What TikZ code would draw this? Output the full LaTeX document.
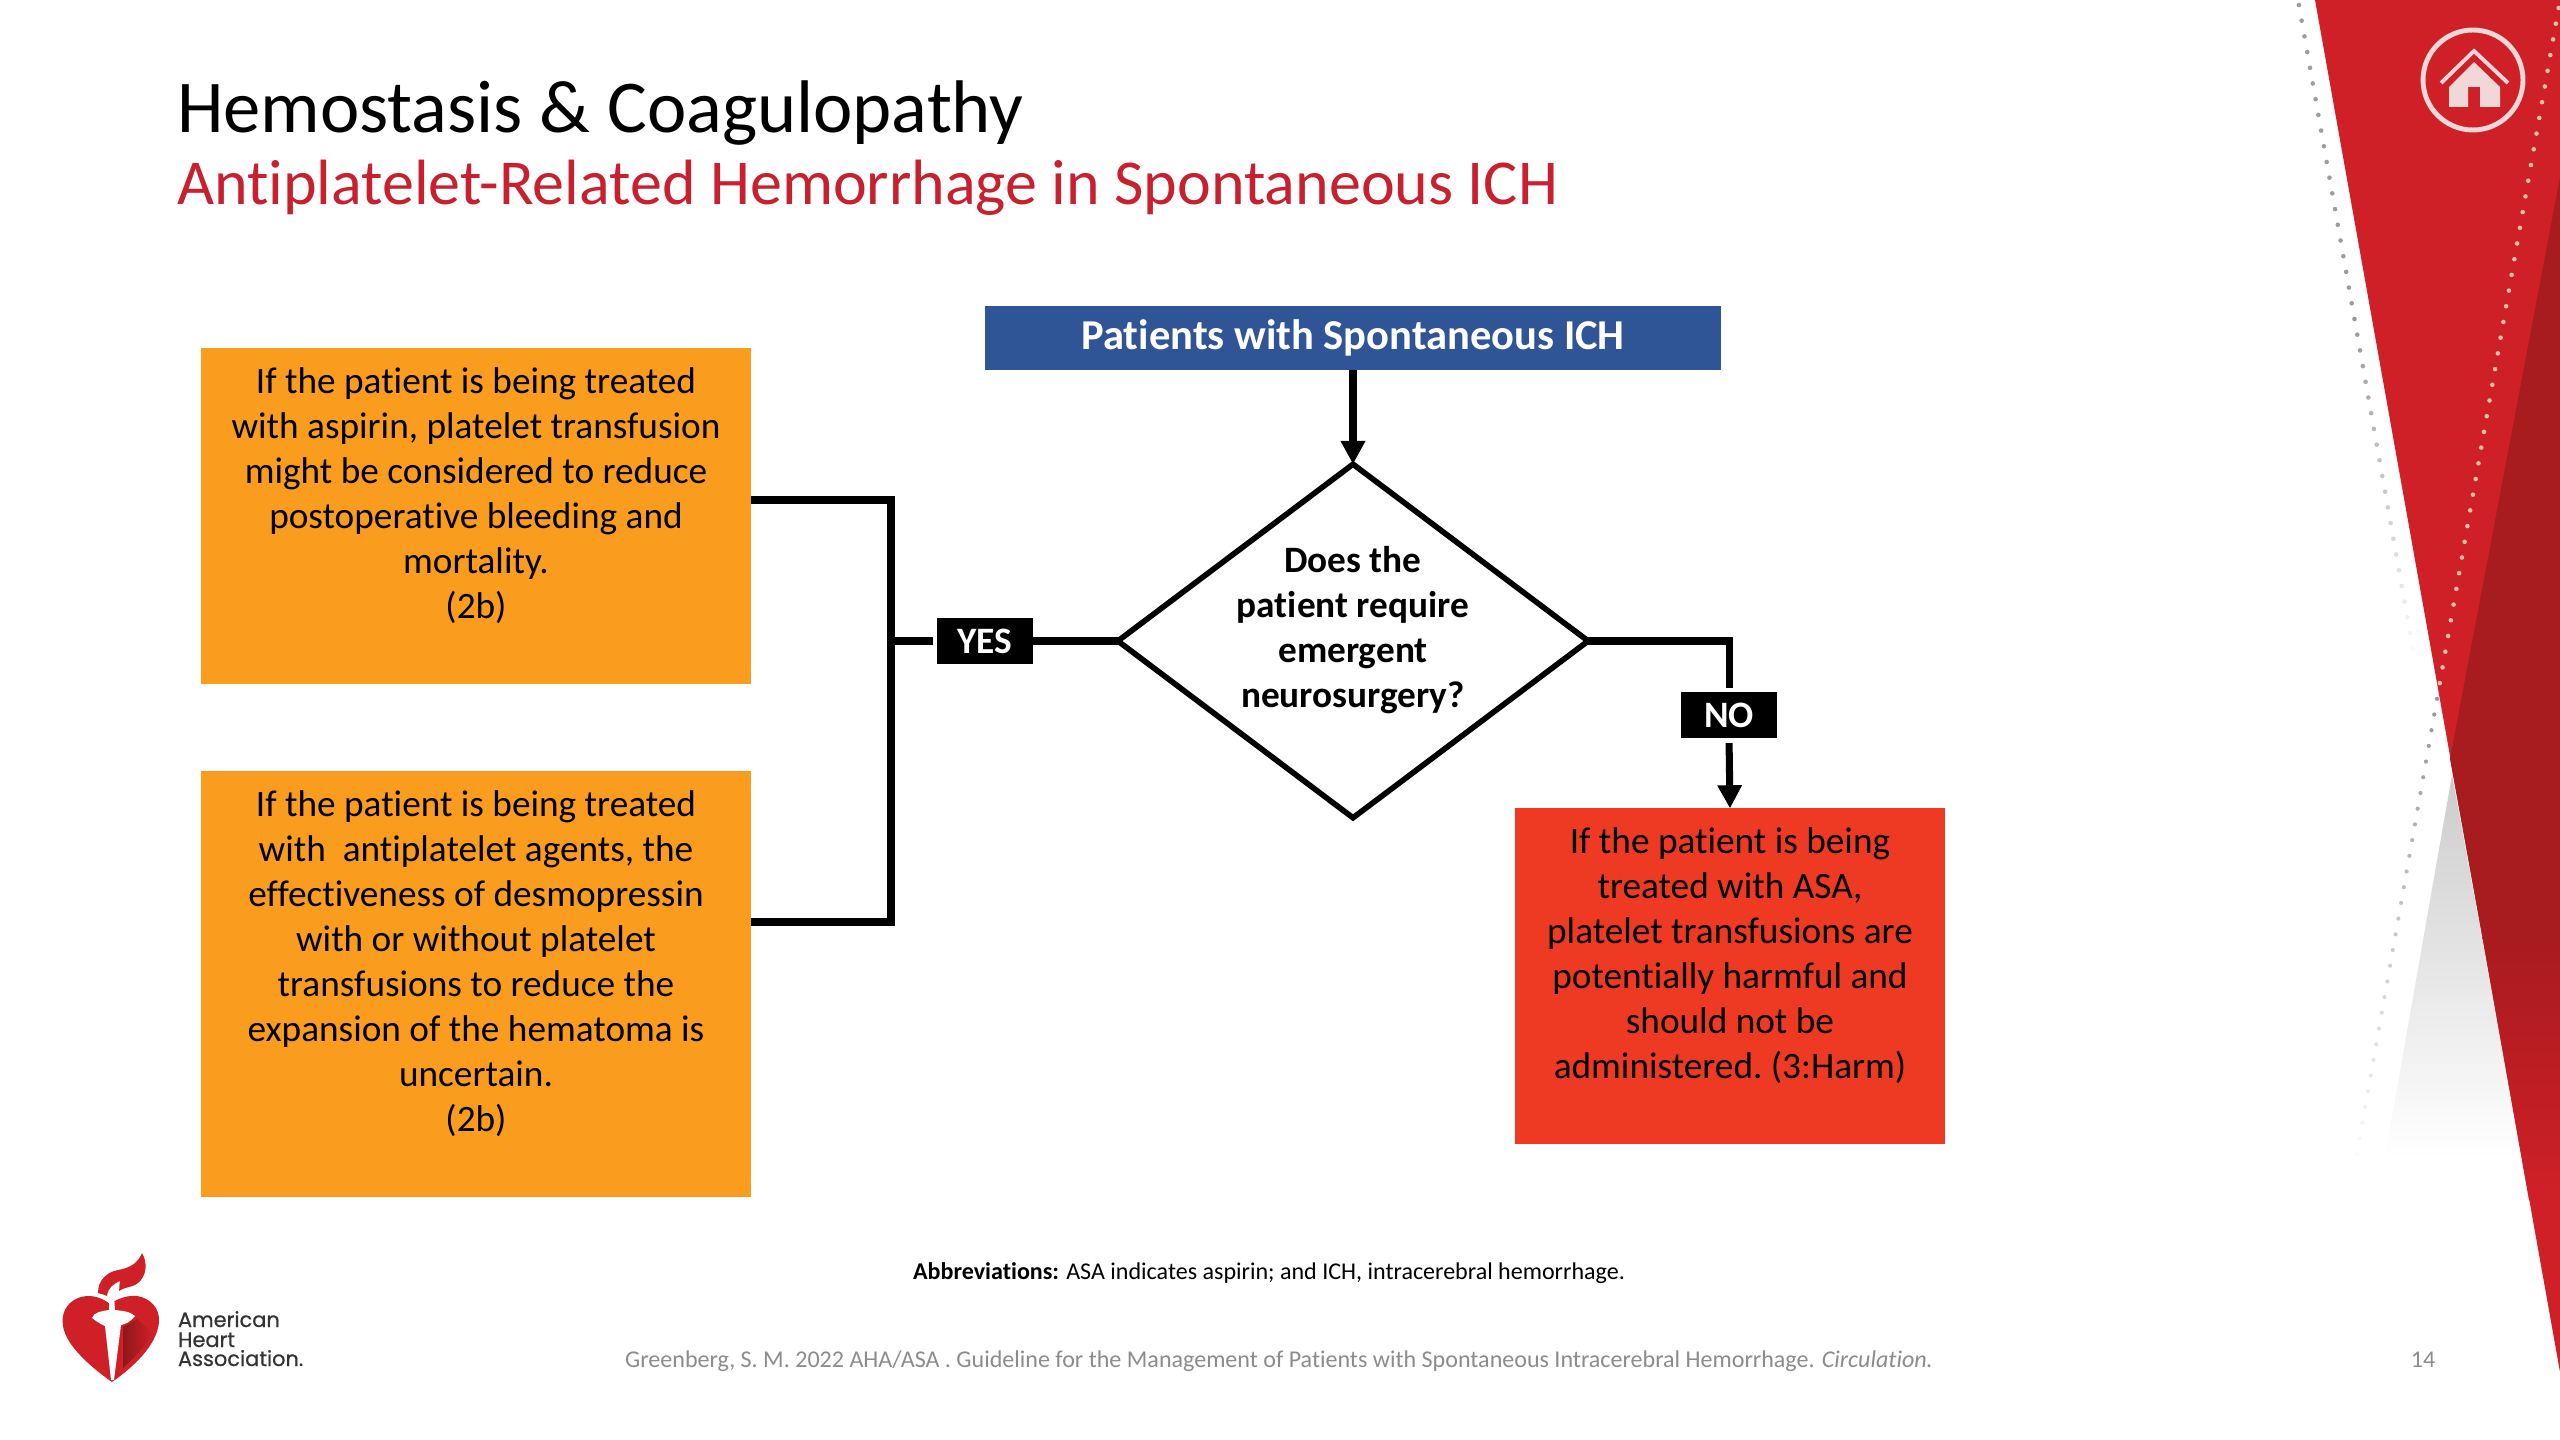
\documentclass[tikz,border=0pt]{standalone}
\usepackage{fontspec}
\setmainfont[Ligatures=NoCommon]{Carlito}
\newfontfamily\logofont[FakeBold=0.5]{Poppins}
\usepackage{xcolor}
\usetikzlibrary{arrows.meta,positioning,calc,shapes.geometric}
\definecolor{ahared}{HTML}{CF2027}
\definecolor{ahadark}{HTML}{A81B1F}
\definecolor{boxorange}{HTML}{FA9C1E}
\definecolor{boxblue}{HTML}{2F5597}
\definecolor{boxred}{HTML}{EE3A23}
\definecolor{titlered}{HTML}{C8202F}
\definecolor{footgray}{HTML}{8C8C8C}
\definecolor{dottan}{HTML}{DDBFA6}
\definecolor{homepink}{HTML}{F2D7D9}

\begin{document}
\begin{tikzpicture}[x=0.01cm,y=-0.01cm,
  bx/.style={rectangle,inner sep=0pt,outer sep=0pt,align=flush center,
    font=\fontsize{10.6}{12.8}\selectfont\frenchspacing,text=black},
  tag/.style={rectangle,fill=black,text=white,inner sep=0pt,outer sep=0pt,
    font=\fontsize{10.6}{12.8}\selectfont\bfseries},
  ln/.style={line width=2pt,black},
  ar/.style={ln,-{Triangle[length=6.6pt,width=6.6pt]}},
  foot/.style={inner sep=0pt,outer sep=0pt,anchor=base,font=\fontsize{6.84}{8.4}\selectfont},
  ttl/.style={inner sep=0pt,outer sep=0pt,anchor=base west},
  logotx/.style={inner sep=0pt,outer sep=0pt,anchor=base west,text=black!80,
    font=\logofont\fontsize{5.95}{7}\selectfont}
]
\useasboundingbox (0,0) rectangle (2560,1440);
\fill[white] (0,0) rectangle (2560,1440);
% ---- right band ----
\shade[top color=black!20,bottom color=white] (2452,775) -- (2385,1157) -- (2522,1157) -- cycle;
\fill[ahared] (2315,0) -- (2560,0) -- (2560,1372) -- cycle;
\fill[ahadark] (2560,177) -- (2450,759) -- (2482,935) -- (2560,935) -- cycle;
\shade[top color=ahadark,bottom color=ahared] (2482,935) -- (2560,935) -- (2560,1200) -- (2529,1200) -- cycle;
% dots of the two slanted lines
\foreach \i in {0,...,41}{
  \pgfmathsetmacro{\yy}{5+15.7*\i}
  \pgfmathsetmacro{\op}{\i<20 ? 0.85 : 0.85*(41-\i)/21+0.05}
  \fill[black!45,opacity=\op] ({2298+0.177*\yy},\yy) circle (2.3);
}
\foreach \i in {0,...,43}{
  \pgfmathsetmacro{\yy}{8+15.7*\i}
  \fill[dottan] ({2560-0.176*\yy},\yy) circle (2.3);
}
\foreach \i in {44,...,73}{
  \pgfmathsetmacro{\yy}{8+15.7*\i}
  \pgfmathsetmacro{\op}{0.8*(73-\i)/29+0.03}
  \fill[black!50,opacity=\op] ({2560-0.176*\yy},\yy) circle (2.1);
}
% home button
\draw[homepink,line width=1.4pt] (2473,80) circle (50);
\draw[homepink,line width=1.1pt] (2441,83) -- (2474,51) -- (2508,83);
\fill[homepink] (2449,107) -- (2449,87) -- (2474,62) -- (2500,87) -- (2500,107) -- (2480,107)
  -- (2480,87) -- (2468,87) -- (2468,107) -- cycle;
% ---- titles ----
\node[ttl,font=\fontsize{21.2}{26}\selectfont] (title) at (177,133) {Hemostasis \& Coagulopathy};
\node[ttl,font=\fontsize{18.2}{22}\selectfont,text=titlered] (subtitle) at (177,205) {Antiplatelet-Related Hemorrhage in Spontaneous ICH};
% ---- flow chart ----
\node[bx,fill=boxorange,text width=5.5cm,minimum height=3.35cm] (asp) at (476,516)
  {If the patient is being treated\\with aspirin, platelet transfusion\\might be considered to reduce\\postoperative bleeding and\\mortality.\\(2b)\\\mbox{}};
\node[bx,fill=boxorange,text width=5.5cm,minimum height=4.25cm] (anti) at (476,984)
  {If the patient is being treated\\with\ \ antiplatelet agents, the\\effectiveness of desmopressin\\with or without platelet\\transfusions to reduce the\\expansion of the hematoma is\\uncertain.\\(2b)\\\mbox{}};
\node[rectangle,fill=boxblue,text=white,inner sep=0pt,outer sep=0pt,minimum width=7.36cm,minimum height=0.64cm,
  font=\fontsize{12.1}{14}\selectfont\bfseries] (ich) at (1353,338) {Patients with Spontaneous ICH};
\node[diamond,draw=black,line width=1.6pt,fill=white,aspect=1.33,inner sep=-0.9pt,outer sep=0pt,
  align=center,font=\fontsize{10.6}{12.8}\selectfont\bfseries] (dec) at (1353,641)
  {Does the\\patient require\\emergent\\neurosurgery?\\[-4.6pt]\mbox{}};
\node[tag,minimum width=0.96cm,minimum height=0.46cm] (yes) at (985,641) {YES};
\node[tag,minimum width=0.95cm,minimum height=0.45cm] (no) at (1729,715) {NO};
\node[bx,fill=boxred,text width=4.3cm,minimum height=3.35cm] (harm) at (1730,976)
  {If the patient is being\\treated with ASA,\\platelet transfusions are\\potentially harmful and\\should not be\\administered. (3:Harm)\\\mbox{}};
% connectors
\coordinate (jtop) at (891,500);
\coordinate (jmid) at (891,641);
\coordinate (jbot) at (891,922);
\draw[ln] (asp.east |- jtop) -- (jtop) -- (jbot) -- (anti.east |- jbot);
\draw[ln,shorten >=1.2pt] (jmid) -- (yes.west);
\draw[ln] (yes.east) -- (dec.west);
\draw[ar] (ich.south) -- (dec.north);
\draw[ln,shorten >=1.4pt] (dec.east) -| (no.north);
\draw[ar,shorten <=1.6pt] (no.south) -- (harm.north);
% ---- footer ----
\node[foot] (abbr) at (1269,1279) {\textbf{Abbreviations:} ASA indicates aspirin; and ICH, intracerebral hemorrhage.};
\node[foot,text=footgray] (cite) at (1279,1367) {Greenberg, S. M. 2022 AHA/ASA . Guideline for the Management of Patients with Spontaneous Intracerebral Hemorrhage. \textit{Circulation.}};
\node[foot,text=footgray] (page) at (2423,1367) {14};
% ---- logo ----
\fill[ahared] (110,1304) .. controls (100,1296) and (88,1294) .. (78,1298)
  .. controls (66,1303) and (61,1314) .. (63,1326)
  .. controls (66,1346) and (92,1368) .. (112,1382)
  .. controls (132,1368) and (157,1346) .. (159,1322)
  .. controls (160,1308) and (150,1298) .. (137,1296)
  .. controls (127,1295) and (117,1299) .. (110,1304) -- cycle;
\shade[left color=ahadark!85!black,right color=ahared] (123,1327) -- (137,1319) -- (153,1333)
  .. controls (146,1346) and (134,1358) .. (123,1368) -- cycle;
\fill[white] (92,1318) .. controls (94,1312) and (102,1311) .. (109,1310) -- (109,1302) -- (114,1295)
  -- (115,1310) .. controls (122,1311) and (130,1311) .. (135,1316)
  .. controls (130,1322) and (126,1324) .. (121,1325) -- (114,1380) -- (111,1380) -- (105,1326)
  .. controls (100,1324) and (96,1321) .. (92,1318) -- cycle;
\fill[ahared] (98,1293) .. controls (98,1280) and (107,1272) .. (118,1270)
  .. controls (130,1268) and (138,1263) .. (142,1253)
  .. controls (147,1262) and (147,1272) .. (141,1280)
  .. controls (135,1288) and (126,1286) .. (119,1291)
  .. controls (120,1286) and (119,1283) .. (120,1281)
  .. controls (113,1284) and (108,1288) .. (107,1296)
  .. controls (103,1294) and (100,1294) .. (98,1293) -- cycle;
\node[logotx] (lgA) at (178,1327) {American};
\node[logotx] (lgB) at (178,1347) {Heart};
\node[logotx] (lgC) at (178,1366) {Association.};
\end{tikzpicture}
\end{document}
